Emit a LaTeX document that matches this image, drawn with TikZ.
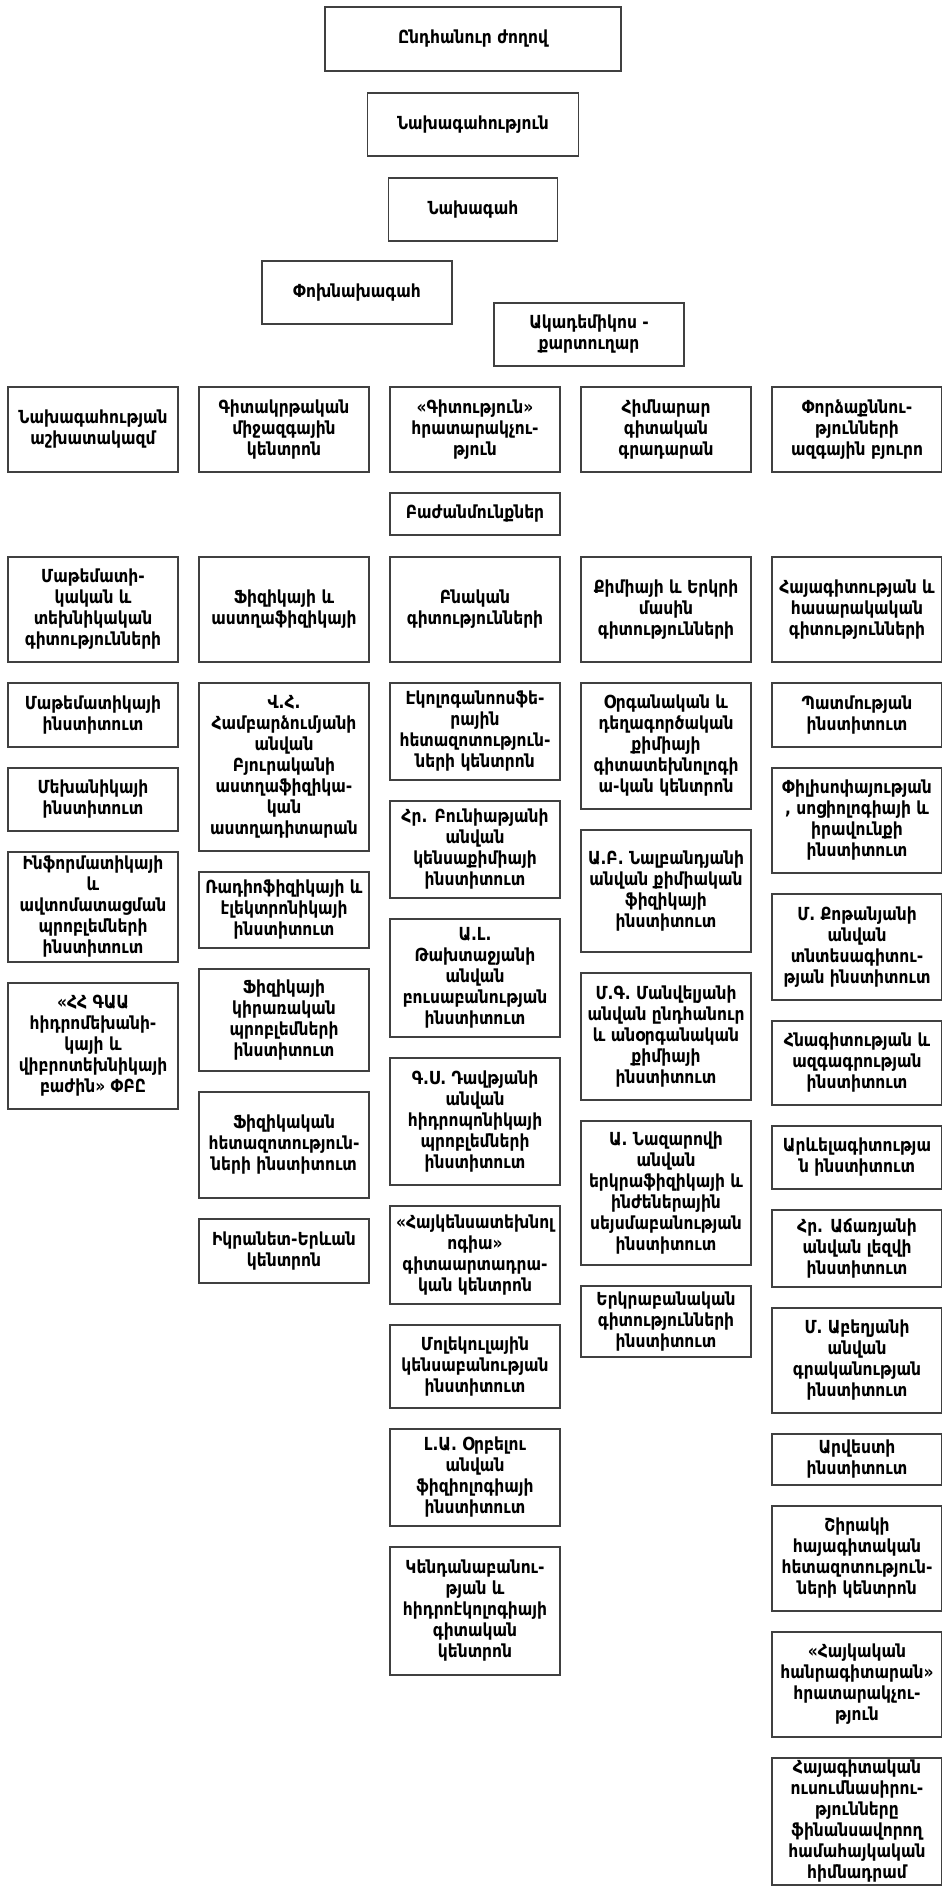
\documentclass[tikz,border=0pt]{standalone}
\usepackage{fontspec}
\setmainfont{DejaVu Sans}[FakeStretch=0.86]
\usetikzlibrary{positioning}

\begin{document}
\begin{tikzpicture}[
  x=0.5pt, y=-0.5pt,
  node distance=10.5pt,
  box/.style={draw=black!75, line width=0.6pt, fill=white, align=center,
              minimum width=85pt, inner xsep=1.5pt, inner ysep=0.5pt, outer sep=0pt,
              font=\fontsize{9}{10.5}\selectfont\bfseries},
  leadbox/.style={box, minimum height=31.5pt},
  rowbox/.style={box, minimum height=42.5pt},
  headbox/.style={box, minimum height=52.5pt}
]
\useasboundingbox (0,0) rectangle (942,1892);

% top of the chart
\node[leadbox, minimum width=148pt, minimum height=32pt] (gen) at (473,39) {Ընդհանուր ժողով};
\node[leadbox, minimum width=105.5pt, below=11pt of gen] (presid) {Նախագահություն};
\node[leadbox, minimum width=84.5pt, below=11pt of presid] (pres) {Նախագահ};
\node[leadbox, minimum width=95pt] (vice) at (357,292.5) {Փոխնախագահ};
\node[leadbox, minimum width=95pt] (acad) at (589,334.5) {Ակադեմիկոս -\\քարտուղար};

% row under the leaders
\node[rowbox] (staff) at (93,429.5) {Նախագահության\\աշխատակազմ};
\node[rowbox, right=of staff] (educ) {Գիտակրթական\\միջազգային\\կենտրոն};
\node[rowbox, right=of educ] (pub) {«Գիտություն»\\հրատարակչու-\\թյուն};
\node[rowbox, right=of pub] (lib) {Հիմնարար\\գիտական\\գրադարան};
\node[rowbox, right=of lib] (expert) {Փորձաքննու-\\թյունների\\ազգային բյուրո};
\node[box, minimum height=21pt, below=of pub] (depts) {Բաժանմունքներ};

% divisions
\node[headbox] (mathdiv) at (93,609.5) {Մաթեմատի-\\կական և\\տեխնիկական\\գիտությունների};
\node[headbox, right=of mathdiv] (physdiv) {Ֆիզիկայի և\\աստղաֆիզիկայի};
\node[headbox, right=of physdiv] (natdiv) {Բնական\\գիտությունների};
\node[headbox, right=of natdiv] (chemdiv) {Քիմիայի և Երկրի\\մասին\\գիտությունների};
\node[headbox, right=of chemdiv] (humdiv) {Հայագիտության և\\հասարակական\\գիտությունների};

% mathematics and technical sciences
\node[box, minimum height=32pt, below=of mathdiv] (math) {Մաթեմատիկայի\\ինստիտուտ};
\node[box, minimum height=31.5pt, below=of math] (mech) {Մեխանիկայի\\ինստիտուտ};
\node[box, minimum height=55pt, below=of mech] (info) {Ինֆորմատիկայի\\և\\ավտոմատացման\\պրոբլեմների\\ինստիտուտ};
\node[box, minimum height=63pt, below=of info] (hydro) {«ՀՀ ԳԱԱ\\հիդրոմեխանի-\\կայի և\\վիբրոտեխնիկայի\\բաժին» ՓԲԸ};

% physics and astrophysics
\node[box, minimum height=84pt, below=of physdiv] (byur) {Վ.Հ.\\Համբարձումյանի\\անվան\\Բյուրականի\\աստղաֆիզիկա-\\կան\\աստղադիտարան};
\node[box, minimum height=38pt, below=of byur] (radio) {Ռադիոֆիզիկայի և\\էլեկտրոնիկայի\\ինստիտուտ};
\node[box, minimum height=51pt, below=of radio] (appl) {Ֆիզիկայի\\կիրառական\\պրոբլեմների\\ինստիտուտ};
\node[box, minimum height=53pt, below=of appl] (physres) {Ֆիզիկական\\հետազոտություն-\\ների ինստիտուտ};
\node[box, minimum height=32pt, below=of physres] (ikra) {Իկրանետ-Երևան\\կենտրոն};

% natural sciences
\node[box, minimum height=48.5pt, below=of natdiv] (eco) {Էկոլոգանոոսֆե-\\րային\\հետազոտություն-\\ների կենտրոն};
\node[box, minimum height=48.5pt, below=of eco] (bunia) {Հր. Բունիաթյանի\\անվան\\կենսաքիմիայի\\ինստիտուտ};
\node[box, minimum height=59pt, below=of bunia] (takht) {Ա.Լ.\\Թախտաջյանի\\անվան\\բուսաբանության\\ինստիտուտ};
\node[box, minimum height=63.5pt, below=of takht] (davt) {Գ.Ս. Դավթյանի\\անվան\\հիդրոպոնիկայի\\պրոբլեմների\\ինստիտուտ};
\node[box, minimum height=49pt, below=of davt] (biotech) {«Հայկենսատեխնոլ\\ոգիա»\\գիտաարտադրա-\\կան կենտրոն};
\node[box, minimum height=41.5pt, below=of biotech] (molbio) {Մոլեկուլային\\կենսաբանության\\ինստիտուտ};
\node[box, minimum height=48.5pt, below=of molbio] (orbeli) {Լ.Ա. Օրբելու\\անվան\\ֆիզիոլոգիայի\\ինստիտուտ};
\node[box, minimum height=64pt, below=of orbeli] (zoo) {Կենդանաբանու-\\թյան և\\հիդրոէկոլոգիայի\\գիտական\\կենտրոն};

% chemistry and earth sciences
\node[box, minimum height=63pt, below=of chemdiv] (orgchem) {Օրգանական և\\դեղագործական\\քիմիայի\\գիտատեխնոլոգի\\ա-կան կենտրոն};
\node[box, minimum height=61pt, below=of orgchem] (nalb) {Ա.Բ. Նալբանդյանի\\անվան քիմիական\\ֆիզիկայի\\ինստիտուտ};
\node[box, minimum height=63.5pt, below=of nalb] (manv) {Մ.Գ. Մանվելյանի\\անվան ընդհանուր\\և անօրգանական\\քիմիայի\\ինստիտուտ};
\node[box, minimum height=72pt, below=of manv] (nazar) {Ա. Նազարովի\\անվան\\երկրաֆիզիկայի և\\ինժեներային\\սեյսմաբանության\\ինստիտուտ};
\node[box, minimum height=35.5pt, below=of nazar] (geo) {Երկրաբանական\\գիտությունների\\ինստիտուտ};

% armenian studies and social sciences
\node[box, minimum height=32pt, below=of humdiv] (hist) {Պատմության\\ինստիտուտ};
\node[box, minimum height=52.5pt, below=of hist] (philo) {Փիլիսոփայության\\, սոցիոլոգիայի և\\իրավունքի\\ինստիտուտ};
\node[box, minimum height=53pt, below=of philo] (econ) {Մ. Քոթանյանի\\անվան\\տնտեսագիտու-\\թյան ինստիտուտ};
\node[box, minimum height=42pt, below=of econ] (archeo) {Հնագիտության և\\ազգագրության\\ինստիտուտ};
\node[box, minimum height=31.5pt, below=of archeo] (orient) {Արևելագիտությա\\ն ինստիտուտ};
\node[box, minimum height=38.5pt, below=of orient] (lang) {Հր. Աճառյանի\\անվան լեզվի\\ինստիտուտ};
\node[box, minimum height=52.5pt, below=of lang] (lit) {Մ. Աբեղյանի\\անվան\\գրականության\\ինստիտուտ};
\node[box, minimum height=25.5pt, below=of lit] (art) {Արվեստի\\ինստիտուտ};
\node[box, minimum height=52.5pt, below=of art] (shirak) {Շիրակի\\հայագիտական\\հետազոտություն-\\ների կենտրոն};
\node[box, minimum height=52.5pt, below=of shirak] (encyc) {«Հայկական\\հանրագիտարան»\\հրատարակչու-\\թյուն};
\node[box, minimum height=63.5pt, below=of encyc] (fund) {Հայագիտական\\ուսումնասիրու-\\թյունները\\ֆինանսավորող\\համահայկական\\հիմնադրամ};
\end{tikzpicture}
\end{document}
